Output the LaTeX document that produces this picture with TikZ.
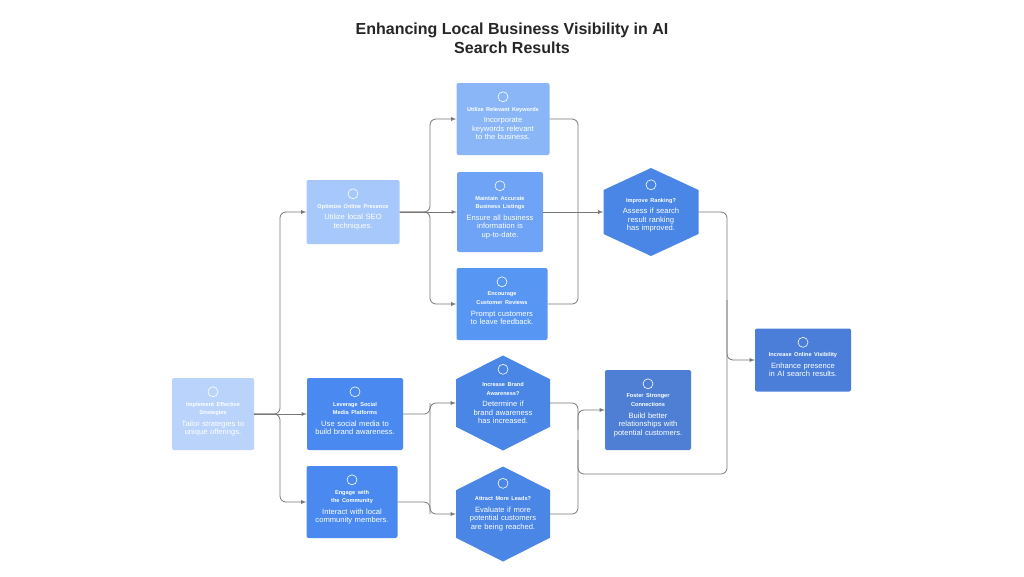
\documentclass[tikz,border=0pt]{standalone}
\usepackage{fontspec}
\setmainfont{Liberation Sans}
\usetikzlibrary{calc}
\definecolor{cA}{HTML}{BAD3FB}
\definecolor{cB}{HTML}{A6C8FB}
\definecolor{cC}{HTML}{4A8AF0}
\definecolor{cD}{HTML}{8AB6F8}
\definecolor{cE}{HTML}{6EA3F5}
\definecolor{cF}{HTML}{5896F4}
\definecolor{cH}{HTML}{4A86E6}
\definecolor{cG}{HTML}{4E7FD4}
\definecolor{cV}{HTML}{4A7ED8}
\definecolor{ln}{HTML}{777777}
\tikzset{
 boxs/.style={rounded corners=2pt,inner sep=0pt},
 txt/.style={text=white,align=center,inner sep=0pt,font=\fontsize{7.6}{8.6}\selectfont,execute at begin node={\hyphenpenalty=10000 \exhyphenpenalty=10000}},
 conn/.style={draw=ln,line width=0.8pt,rounded corners=6pt},
 arr/.style={conn,-{latex}},
 ico/.style={draw=white,line width=0.6pt},
}
\newcommand{\tbox}[8]{%
 \node[boxs,fill=#6,minimum width=#4pt,minimum height=#5pt] (#1) at (#2,#3) {};
 \node[txt,anchor=north,text width=#4pt-14pt] (#1t) at ($(#1.north)+(0,24)$) {{\bfseries\fontsize{5.6}{6.4}\selectfont #7}\\[3pt]#8};
 \draw[ico] ($(#1.north)+(0,14)$) circle (5);
}
\newcommand{\thex}[9]{%
 \fill[#6] (#2,#3-#5/2) -- (#2+#4/2,#3-#5/4) -- (#2+#4/2,#3+#5/4) -- (#2,#3+#5/2) -- (#2-#4/2,#3+#5/4) -- (#2-#4/2,#3-#5/4) -- cycle;
 \node[minimum width=#4pt,minimum height=#5pt,inner sep=0pt] (#1) at (#2,#3) {};
 \node[txt,anchor=north,text width=#4pt-26pt] (#1t) at ($(#1.north)+(0,#9)$) {{\bfseries\fontsize{5.6}{6.4}\selectfont #7}\\[3pt]#8};
 \draw[ico] ($(#1.north)+(0,#9-13)$) circle (5);
}
\begin{document}
\begin{tikzpicture}[x=1pt,y=-1pt]
\useasboundingbox (0,0) rectangle (1024,576);
\node[font=\bfseries\fontsize{16}{19}\selectfont,text=black!85,align=center] (title) at (512,38) {Enhancing Local Business Visibility in AI\\Search Results};
\tbox{imp}{213}{414}{82}{72}{cA}{Implement Effective Strategies}{Tailor strategies to unique offerings.}
\tbox{opt}{353}{212}{93}{64}{cB}{Optimize Online Presence}{Utilize local SEO techniques.}
\tbox{lev}{355}{414}{96}{72}{cC}{Leverage Social Media Platforms}{Use social media to build brand awareness.}
\tbox{eng}{352}{502}{91}{72}{cC}{Engage with the Community}{Interact with local community members.}
\tbox{kw}{503}{119}{93}{72}{cD}{Utilize Relevant Keywords}{Incorporate keywords relevant to the business.}
\tbox{mai}{500}{212}{86}{80}{cE}{Maintain Accurate Business Listings}{Ensure all business information is up-to-date.}
\tbox{enc}{502}{304}{91}{72}{cF}{Encourage Customer Reviews}{Prompt customers to leave feedback.}
\tbox{fos}{648}{410}{86}{80}{cG}{Foster Stronger Connections}{Build better relationships with potential customers.}
\tbox{vis}{803}{360}{96}{63}{cV}{Increase Online Visibility}{Enhance presence in AI search results.}
\thex{rank}{651}{212}{95}{88}{cH}{Improve Ranking?}{Assess if search result ranking has improved.}{30}
\thex{brand}{503}{403}{94}{95}{cH}{Increase Brand Awareness?}{Determine if brand awareness has increased.}{27}
\thex{lead}{503}{514}{94}{95}{cH}{Attract More Leads?}{Evaluate if more potential customers are being reached.}{30}
% connectors
\draw[arr] (imp.east) -- (280,414) |- (opt.west);
\draw[arr] (imp.east) -- (lev.west);
\draw[arr] (imp.east) -- (280,414) |- (eng.west);
\draw[arr] (opt.east) -- (430,212) |- (kw.west);
\draw[arr] (opt.east) -- (mai.west);
\draw[arr] (opt.east) -- (430,212) |- (enc.west);
\draw[conn] (kw.east) -| (578,212);
\draw[conn] (enc.east) -| (578,212);
\draw[arr] (mai.east) -- (rank.west);
\draw[conn] (rank.east) -| (727,360);
\draw[arr] (727,300) |- (vis.west);
\draw[conn] (lev.east) -| (430,403);
\draw[conn] (eng.east) -| (430,514);
\draw[arr] (430,460) |- (brand.west);
\draw[arr] (430,460) |- (lead.west);
\draw[conn] (brand.east) -| (578,440);
\draw[conn] (lead.east) -| (578,440);
\draw[arr] (578,430) |- (fos.west);
\draw[conn] (578,440) |- (727,474) -- (727,360);
\end{tikzpicture}
\end{document}
